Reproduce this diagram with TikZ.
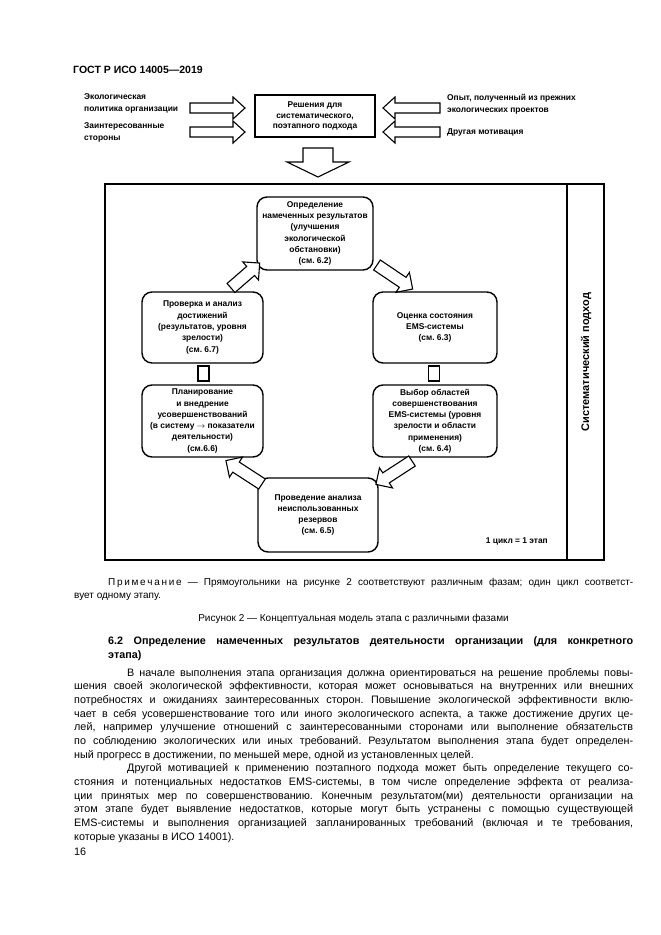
\documentclass[tikz,border=0pt]{standalone}
\usepackage{fontspec}
\setmainfont{Liberation Sans}
\frenchspacing
\newcommand\blockarrow[7]{% x y angle length shafthalf headhalf headlen
  \draw[barrowst,shift={(#1,#2)},rotate=#3] (0,-#5) -- ({#4-#7},-#5) -- ({#4-#7},-#6) -- (#4,0) -- ({#4-#7},#6) -- ({#4-#7},#5) -- (0,#5) -- cycle;}
\newcommand\lsp[1]{#1\kern1.7pt}
\begin{document}
\begin{tikzpicture}[x=1pt,y=-1pt,
  lbl/.style={font=\fontsize{8.4}{12}\selectfont\bfseries, align=left, inner sep=0pt, anchor=west},
  rbox/.style={draw, line width=1.4pt, rounded corners=10pt, align=center, inner sep=0pt, font=\fontsize{8.4}{11.3}\selectfont\bfseries},
  sbox/.style={draw, line width=1.1pt, inner sep=0pt},
  barrowst/.style={draw, line width=1.1pt, line join=miter, fill=white},
  body/.style={anchor=base west, inner sep=0pt, font=\fontsize{10.8}{13}\selectfont},
  small/.style={anchor=base west, inner sep=0pt, font=\fontsize{10}{12}\selectfont},
  head/.style={anchor=base west, inner sep=0pt, font=\fontsize{10.8}{13}\selectfont\bfseries}]
\useasboundingbox[fill=white] (0,0) rectangle (661,935);

% header
\node[anchor=base west, inner sep=0pt, font=\fontsize{10.5}{12}\selectfont\bfseries] (hdr) at (73,73) {ГОСТ Р ИСО 14005—2019};

% top part
\node[lbl] (ecopol) at (84,103) {Экологическая\\политика организации};
\node[lbl] (stake) at (84,132) {Заинтересованные\\стороны};
\node[lbl] (exp) at (447,104) {Опыт, полученный из прежних\\экологических проектов};
\node[lbl] (other) at (447,132) {Другая мотивация};
\node[draw, line width=1.4pt, minimum width=120pt, minimum height=42pt, align=center, inner sep=0pt,
      font=\fontsize{8.4}{10.5}\selectfont\bfseries] (dec) at (315,116) {Решения для\\систематического,\\поэтапного подхода};

\blockarrow{190}{108}{0}{55}{5}{11}{12}
\blockarrow{190}{132}{0}{55}{5}{11}{12}
\blockarrow{440}{108}{180}{57}{5}{11}{12}
\blockarrow{440}{132}{180}{57}{5}{11}{12}
\blockarrow{318}{148}{-90}{29}{15}{31}{15}

% frame
\draw[line width=1.4pt] (105,184) rectangle (604,560);
\draw[line width=1.4pt] (567,184) -- (567,560);
\node[rotate=90, inner sep=0pt, font=\fontsize{11}{13}\selectfont\bfseries] (sys) at (586,362) {Систематический подход};
\node[anchor=east, inner sep=0pt, font=\fontsize{8.4}{10}\selectfont\bfseries] (cyc) at (548,541) {1 цикл = 1 этап};

% phase boxes
\node[rbox, minimum width=116pt, minimum height=73pt] (obj) at (315,233.5) {Определение\\намеченных результатов\\(улучшения\\экологической\\обстановки)\\(см. 6.2)};
\node[rbox, minimum width=121pt, minimum height=71pt] (chk) at (202.5,327.5) {Проверка и анализ\\достижений\\(результатов, уровня\\зрелости)\\(см. 6.7)};
\node[rbox, minimum width=124pt, minimum height=71pt] (ass) at (435,327.5) {Оценка состояния\\EMS-системы\\(см. 6.3)};
\node[rbox, minimum width=121pt, minimum height=72pt] (pln) at (202.5,421) {Планирование\\и внедрение\\усовершенствований\\(в систему \(\rightarrow\) показатели\\деятельности)\\(см.6.6)};
\node[rbox, minimum width=124pt, minimum height=72pt] (sel) at (435,421) {Выбор областей\\совершенствования\\EMS-системы (уровня\\зрелости и области\\применения)\\(см. 6.4)};
\node[rbox, minimum width=120pt, minimum height=74pt] (res) at (318,515) {Проведение анализа\\неиспользованных\\резервов\\(см. 6.5)};

% links
\node[sbox, minimum width=11pt, minimum height=15pt] (sq1) at (203.5,373.5) {};
\node[sbox, minimum width=11pt, minimum height=15pt] (sq2) at (434,373.5) {};
\blockarrow{231}{288}{41}{38}{6}{12}{12}
\blockarrow{377}{265}{-34}{43}{6}{12}{12}
\blockarrow{412}{461}{-147}{43}{6}{12}{12}
\blockarrow{262}{484}{147}{43}{6}{12}{12}

% note and caption
\node[small] (note1) at (108,585) {\makebox[525pt][s]{\lsp П\lsp р\lsp и\lsp м\lsp е\lsp ч\lsp а\lsp н\lsp и е — Прямоугольники на рисунке 2 соответствуют различным фазам; один цикл соответст-}};
\node[small] (note2) at (74,598) {вует одному этапу.};
\node[anchor=base, inner sep=0pt, font=\fontsize{10}{12}\selectfont] (cap) at (353.5,621) {Рисунок 2 — Концептуальная модель этапа с различными фазами};

% section heading
\node[head] (h1) at (108,644) {\makebox[525pt][s]{6.2 Определение намеченных результатов деятельности организации (для конкретного}};
\node[head] (h2) at (108,658) {этапа)};

% body text
\node[body] (l1) at (127,676) {\makebox[506pt][s]{В начале выполнения этапа организация должна ориентироваться на решение проблемы повы-}};
\node[body] (l2) at (74,689.7) {\makebox[559pt][s]{шения своей экологической эффективности, которая может основываться на внутренних или внешних}};
\node[body] (l3) at (74,703.3) {\makebox[559pt][s]{потребностях и ожиданиях заинтересованных сторон. Повышение экологической эффективности вклю-}};
\node[body] (l4) at (74,717) {\makebox[559pt][s]{чает в себя усовершенствование того или иного экологического аспекта, а также достижение других це-}};
\node[body] (l5) at (74,730.7) {\makebox[559pt][s]{лей, например улучшение отношений с заинтересованными сторонами или выполнение обязательств}};
\node[body] (l6) at (74,744.3) {\makebox[559pt][s]{по соблюдению экологических или иных требований. Результатом выполнения этапа будет определен-}};
\node[body] (l7) at (74,758) {ный прогресс в достижении, по меньшей мере, одной из установленных целей.};
\node[body] (l8) at (127,771.7) {\makebox[506pt][s]{Другой мотивацией к применению поэтапного подхода может быть определение текущего со-}};
\node[body] (l9) at (74,785.3) {\makebox[559pt][s]{стояния и потенциальных недостатков EMS-системы, в том числе определение эффекта от реализа-}};
\node[body] (l10) at (74,799) {\makebox[559pt][s]{ции принятых мер по совершенствованию. Конечным результатом(ми) деятельности организации на}};
\node[body] (l11) at (74,812.7) {\makebox[559pt][s]{этом этапе будет выявление недостатков, которые могут быть устранены с помощью существующей}};
\node[body] (l12) at (74,826.3) {\makebox[559pt][s]{EMS-системы и выполнения организацией запланированных требований (включая и те требования,}};
\node[body] (l13) at (74,840) {которые указаны в ИСО 14001).};
\node[body] (pg) at (74,855) {16};
\end{tikzpicture}
\end{document}
